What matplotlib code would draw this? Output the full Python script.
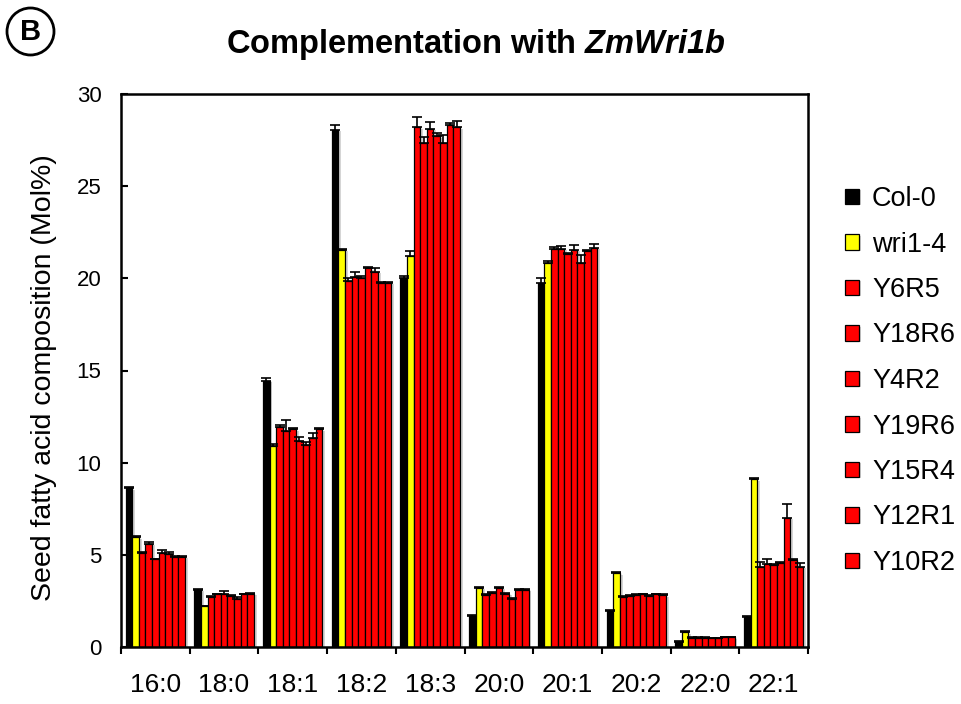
import numpy as np
import matplotlib
matplotlib.use("Agg")
import matplotlib.pyplot as plt
from matplotlib.patches import Ellipse
from matplotlib import patheffects as pe

plt.rcParams["font.family"] = ["Liberation Sans", "DejaVu Sans"]
plt.rcParams["mathtext.fontset"] = "custom"
plt.rcParams["mathtext.bfit"] = "Liberation Sans:bold:italic"
plt.rcParams["mathtext.rm"] = "Liberation Sans"

fatty_acids = ["16:0", "18:0", "18:1", "18:2", "18:3", "20:0", "20:1", "20:2", "22:0", "22:1"]
lines = ["Col-0", "wri1-4", "Y6R5", "Y18R6", "Y4R2", "Y19R6", "Y15R4", "Y12R1", "Y10R2"]
line_colors = ["#000000", "#FFFF00"] + ["#FF0000"] * 7

col0 = [8.6, 3.1, 14.45, 28.05, 20.0, 1.7, 19.75, 1.95, 0.25, 1.65]
col0_err = [0.1, 0.05, 0.15, 0.25, 0.15, 0.05, 0.25, 0.05, 0.05, 0.05]
wri14 = [5.95, 2.2, 10.9, 21.55, 21.2, 3.2, 20.85, 4.0, 0.8, 9.1]
wri14_err = [0.05, 0.05, 0.1, 0.05, 0.3, 0.05, 0.1, 0.05, 0.05, 0.05]
y6r5 = [5.1, 2.7, 11.95, 19.85, 28.2, 2.8, 21.6, 2.7, 0.5, 4.35]
y6r5_err = [0.05, 0.05, 0.1, 0.15, 0.55, 0.05, 0.1, 0.05, 0.03, 0.25]
y18r6 = [5.6, 2.85, 11.7, 20.05, 27.35, 2.95, 21.6, 2.75, 0.5, 4.5]
y18r6_err = [0.1, 0.05, 0.6, 0.3, 0.3, 0.05, 0.15, 0.05, 0.03, 0.3]
y4r2 = [4.75, 2.9, 11.8, 20.0, 28.1, 3.2, 21.3, 2.8, 0.5, 4.45]
y4r2_err = [0.05, 0.15, 0.1, 0.1, 0.4, 0.05, 0.05, 0.05, 0.03, 0.05]
y19r6 = [5.1, 2.75, 11.2, 20.55, 27.7, 2.9, 21.55, 2.85, 0.47, 4.55]
y19r6_err = [0.15, 0.05, 0.2, 0.05, 0.2, 0.05, 0.25, 0.05, 0.03, 0.05]
y15r4 = [5.05, 2.6, 10.95, 20.35, 27.35, 2.6, 20.85, 2.75, 0.47, 7.0]
y15r4_err = [0.1, 0.1, 0.15, 0.2, 0.45, 0.05, 0.4, 0.05, 0.03, 0.75]
y12r1 = [4.9, 2.85, 11.35, 19.75, 28.3, 3.1, 21.5, 2.85, 0.52, 4.7]
y12r1_err = [0.05, 0.05, 0.25, 0.05, 0.15, 0.05, 0.05, 0.05, 0.03, 0.1]
y10r2 = [4.9, 2.9, 11.8, 19.75, 28.2, 3.1, 21.65, 2.8, 0.52, 4.35]
y10r2_err = [0.05, 0.05, 0.1, 0.05, 0.35, 0.05, 0.2, 0.05, 0.03, 0.2]

values = [col0, wri14, y6r5, y18r6, y4r2, y19r6, y15r4, y12r1, y10r2]
errors = [col0_err, wri14_err, y6r5_err, y18r6_err, y4r2_err, y19r6_err, y15r4_err, y12r1_err, y10r2_err]

fig = plt.figure(figsize=(9.61, 7.04), dpi=100)
ax = fig.add_axes([121 / 961, 57 / 704, 687 / 961, 553 / 704])

x = np.arange(len(fatty_acids))
width = 0.096
shadow = [pe.SimplePatchShadow(offset=(2, -1), shadow_rgbFace="#888888", alpha=0.35), pe.Normal()]

for j, (name, vals, errs, color) in enumerate(zip(lines, values, errors, line_colors)):
    pos = x + (j - 4) * width
    bars = ax.bar(pos, vals, width=width, color=color, edgecolor="black",
                  linewidth=0.9, label=name, zorder=2)
    for b in bars:
        b.set_path_effects(shadow)
    # only the upper half of each error bar is drawn
    ax.errorbar(pos, vals, yerr=[np.zeros(len(errs)), errs], fmt="none",
                ecolor="black", elinewidth=1.2, capsize=3.5, capthick=1.2, zorder=3)

ax.set_xlim(-0.5, len(fatty_acids) - 0.5)
ax.set_ylim(0, 30)
ax.set_yticks(range(0, 31, 5))
ax.tick_params(axis="y", direction="in", length=5, width=1.5, labelsize=16, pad=14)
ax.set_xticks(x, fatty_acids)
ax.tick_params(axis="x", which="major", length=0, labelsize=19, pad=19)
ax.set_xticks(np.arange(-0.5, len(fatty_acids)), minor=True)
ax.tick_params(axis="x", which="minor", direction="out", length=5, width=1.5)
for spine in ax.spines.values():
    spine.set_linewidth(1.8)

ax.set_ylabel("Seed fatty acid composition (Mol%)", fontsize=20.5)
ax.yaxis.set_label_coords(-0.093, 0.488)

fig.text(476 / 961, 1 - 45 / 704, r"Complementation with $\mathbfit{ZmWri1b}$",
         ha="center", va="center", fontsize=23.5, fontweight="bold")

fig.add_artist(Ellipse((30.5 / 961, 1 - 31.5 / 704), 47 / 961, 47 / 704,
                       transform=fig.transFigure, fill=False, edgecolor="black", linewidth=2))
fig.text(30.5 / 961, 1 - 31.5 / 704, "B", ha="center", va="center", fontsize=21, fontweight="bold")

ax.legend(loc="upper left", bbox_to_anchor=(845 / 961, 1 - 186 / 704),
          bbox_transform=fig.transFigure, frameon=False, fontsize=19.5,
          handlelength=0.5, handleheight=0.5, handletextpad=0.5,
          labelspacing=0.72, borderpad=0, borderaxespad=0)

fig.savefig("out.png", dpi=100)
